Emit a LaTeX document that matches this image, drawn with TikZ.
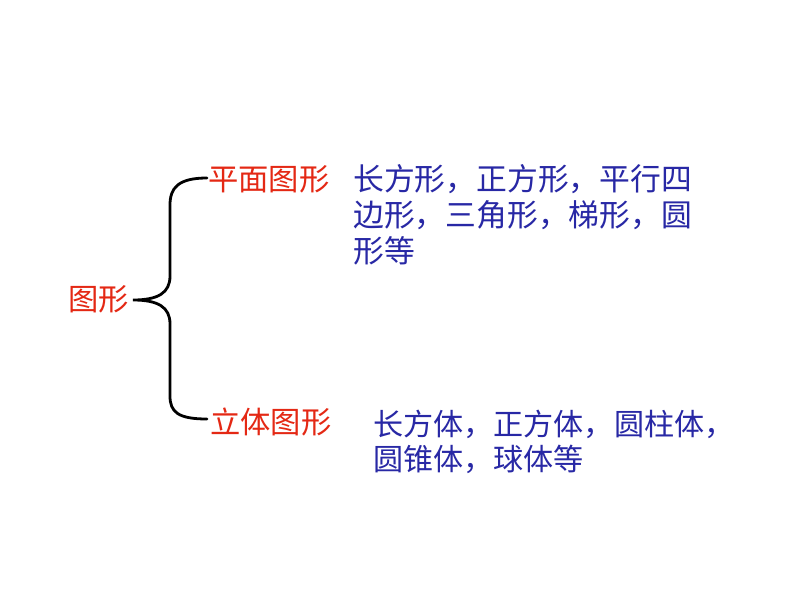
\documentclass[tikz,border=0pt]{standalone}
\usepackage{fontspec}
\newfontfamily\cjk{Noto Sans CJK SC}
\definecolor{redtxt}{RGB}{228,40,20}
\definecolor{bluetxt}{RGB}{40,40,165}
\begin{document}
\begin{tikzpicture}[x=1pt,y=-1pt,
  redlbl/.style={anchor=base west,inner sep=0pt,text=redtxt,font=\cjk\fontsize{30.3}{36}\selectfont},
  bluelbl/.style={anchor=base west,inner sep=0pt,text=bluetxt,font=\cjk\fontsize{30.8}{36}\selectfont},
  bluelblb/.style={anchor=base west,inner sep=0pt,text=bluetxt,font=\cjk\fontsize{30.1}{36}\selectfont},
  bracepath/.style={draw=black,line width=2.8pt,line cap=round}]
\useasboundingbox[fill=white] (0,0) rectangle (794,596);
% labels
\node[redlbl] (root) at (68,310) {图形};
\node[redlbl] (plane) at (208,190) {平面图形};
\node[redlbl] (solid) at (210,433) {立体图形};
\node[bluelbl] (p1) at (353,190) {长方形，正方形，平行四};
\node[bluelbl] (p2) at (353,226) {边形，三角形，梯形，圆};
\node[bluelbl] (p3) at (353,262) {形等};
\node[bluelblb] (s1) at (373,435) {长方体，正方体，圆柱体，};
\node[bluelblb] (s2) at (373,470) {圆锥体，球体等};
% brace
\coordinate (bt) at (207,178);
\coordinate (bm) at (133,300);
\coordinate (bb) at (207,419);
\draw[bracepath] (bt) .. controls (178,178) and (170,188) .. (170,205)
  -- (170,276) .. controls (170,293) and (158,300) .. (bm)
  .. controls (158,300) and (170,307) .. (170,324)
  -- (170,396) .. controls (170,412) and (178,419) .. (bb);
\end{tikzpicture}
\end{document}
